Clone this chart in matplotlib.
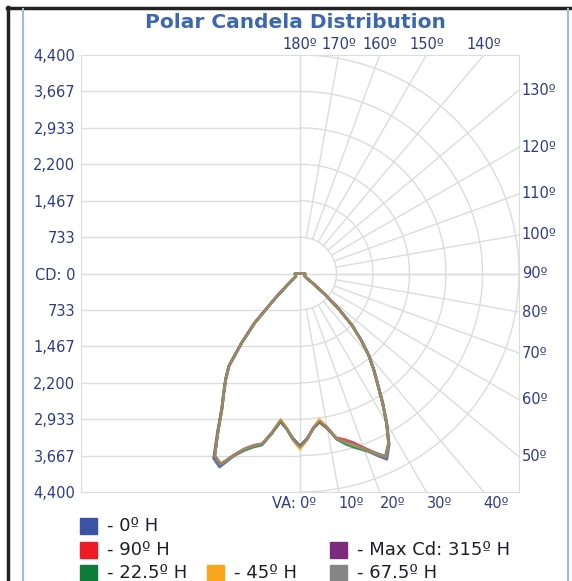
import numpy as np
import matplotlib
matplotlib.use("Agg")
import matplotlib.pyplot as plt
from matplotlib.lines import Line2D
from matplotlib.patches import Rectangle

# vertical angles (deg from nadir) and candela per horizontal plane
va = [0, 2.5, 5, 7.5, 10, 12.5, 15, 17.5, 20, 22.5, 25, 27.5, 30, 32.5, 35,
      37.5, 40, 42.5, 45, 47.5, 50, 52.5, 55, 60, 70, 80, 90, 95, 180]

# right half (plane H), left half (plane H + 180)
cd_0_r = [3480, 3330, 3120, 3010, 3160, 3420, 3500, 3600, 3760, 3950, 4130, 3880, 3480, 3090, 2720,
          2430, 2150, 1820, 1490, 1060, 660, 350, 190, 110, 100, 100, 100, 0, 0]
cd_0_l = [3480, 3330, 3130, 3010, 3270, 3520, 3590, 3720, 3920, 4220, 4110, 3590, 3150, 2860, 2610,
          2350, 1830, 1360, 700, 350, 200, 130, 100, 100, 100, 100, 100, 0, 0]
cd_90_r = [3480, 3330, 3120, 3020, 3170, 3390, 3460, 3570, 3730, 3900, 4070, 3870, 3490, 3100, 2730,
           2440, 2150, 1820, 1490, 1060, 660, 350, 190, 110, 100, 100, 100, 0, 0]
cd_90_l = [3480, 3330, 3130, 3000, 3260, 3510, 3580, 3700, 3890, 4160, 4060, 3560, 3130, 2850, 2600,
           2340, 1820, 1350, 700, 350, 200, 130, 100, 100, 100, 100, 100, 0, 0]
cd_22_r = [3480, 3330, 3120, 3010, 3160, 3420, 3560, 3680, 3790, 3920, 4060, 3850, 3470, 3080, 2710,
           2420, 2140, 1810, 1480, 1050, 650, 340, 190, 110, 100, 100, 100, 0, 0]
cd_22_l = [3480, 3330, 3130, 3000, 3270, 3540, 3620, 3740, 3900, 4150, 4050, 3560, 3140, 2850, 2610,
           2350, 1830, 1350, 700, 350, 200, 130, 100, 100, 100, 100, 100, 0, 0]
cd_45_r = [3540, 3350, 3110, 2960, 3140, 3410, 3510, 3620, 3760, 3920, 4070, 3860, 3480, 3090, 2720,
           2430, 2150, 1820, 1490, 1060, 660, 350, 190, 110, 100, 100, 100, 0, 0]
cd_45_l = [3540, 3350, 3120, 2960, 3250, 3510, 3590, 3710, 3900, 4150, 4050, 3560, 3130, 2850, 2600,
           2340, 1820, 1350, 700, 350, 200, 130, 100, 100, 100, 100, 100, 0, 0]
cd_315_r = [3480, 3330, 3120, 3010, 3160, 3410, 3500, 3600, 3750, 3910, 4080, 3860, 3480, 3090, 2720,
            2430, 2150, 1820, 1490, 1060, 660, 350, 190, 110, 100, 100, 100, 0, 0]
cd_315_l = [3480, 3330, 3130, 3000, 3260, 3520, 3590, 3710, 3900, 4160, 4060, 3560, 3130, 2850, 2600,
            2340, 1820, 1350, 700, 350, 200, 130, 100, 100, 100, 100, 100, 0, 0]
cd_67_r = [3490, 3340, 3120, 3000, 3150, 3410, 3500, 3600, 3750, 3910, 4070, 3860, 3480, 3090, 2720,
           2430, 2150, 1820, 1490, 1060, 660, 350, 190, 110, 100, 100, 100, 0, 0]
cd_67_l = [3490, 3340, 3130, 2990, 3260, 3520, 3590, 3710, 3900, 4160, 4060, 3560, 3130, 2850, 2600,
           2340, 1820, 1350, 700, 350, 200, 130, 100, 100, 100, 100, 100, 0, 0]

planes = ["- 0º H", "- 90º H", "- 22.5º H", "- 45º H", "- Max Cd: 315º H", "- 67.5º H"]
plane_colors = ["#3a53a4", "#ed1c24", "#0f7b3b", "#f9a61a", "#7b2a7e", "#858585"]
plane_data = [(cd_0_r, cd_0_l), (cd_90_r, cd_90_l), (cd_22_r, cd_22_l),
              (cd_45_r, cd_45_l), (cd_315_r, cd_315_l), (cd_67_r, cd_67_l)]
draw_order = [4, 0, 1, 2, 3, 5]

rmax = 4400
ring_step = rmax / 6
ytick_labels = ["4,400", "3,667", "2,933", "2,200", "1,467", "733", "CD: 0",
                "733", "1,467", "2,200", "2,933", "3,667", "4,400"]
top_angles = [180, 170, 160, 150, 140]
right_angles = [130, 120, 110, 100, 90, 80, 70, 60, 50]
bottom_angles = [0, 10, 20, 30, 40]

txt_col = "#2f3b8a"
grid_col = "#dcdcdc"

fig = plt.figure(figsize=(5.72, 5.81), dpi=100)
ax = fig.add_axes([81 / 572, 89 / 581, 438 / 572, 437 / 581])
ax.set_xlim(-rmax, rmax)
ax.set_ylim(-rmax, rmax)
for s in ax.spines.values():
    s.set_color(grid_col)
ax.set_xticks([])
ax.set_yticks(np.linspace(rmax, -rmax, 13))
ax.set_yticklabels(ytick_labels)
ax.tick_params(axis="y", length=0, pad=4, labelsize=10.5, labelcolor=txt_col)

# left half: horizontal lines
for y in np.linspace(rmax, -rmax, 13)[1:-1]:
    ax.plot([-rmax, 0], [y, y], color=grid_col, lw=1, zorder=1)
ax.plot([0, rmax], [0, 0], color=grid_col, lw=1, zorder=1)
ax.plot([0, 0], [-rmax, rmax], color=grid_col, lw=1, zorder=1)

# right half: polar rings and spokes
t = np.radians(np.linspace(0, 180, 200))
for k in range(1, 7):
    r = k * ring_step
    ax.plot(r * np.sin(t), -r * np.cos(t), color=grid_col, lw=1, zorder=1)
for a in range(10, 180, 10):
    ar = np.radians(a)
    s, c = np.sin(ar), np.cos(ar)
    rend = min(rmax / s, rmax / abs(c) if abs(c) > 1e-9 else 1e9)
    ax.plot([ring_step * s, rend * s], [-ring_step * c, -rend * c], color=grid_col, lw=1, zorder=1)

# angle labels
for a in top_angles:
    x = -rmax * np.tan(np.radians(a))
    ax.annotate("%dº" % a, (x, rmax), xytext=(0, 2), textcoords="offset points",
                ha="center", va="bottom", fontsize=10.5, color=txt_col, annotation_clip=False)
for a in right_angles:
    y = -rmax / np.tan(np.radians(a)) if a != 90 else 0
    ax.annotate("%dº" % a, (rmax, y), xytext=(2, 0), textcoords="offset points",
                ha="left", va="center", fontsize=10.5, color=txt_col, annotation_clip=False)
for a in bottom_angles:
    x = rmax * np.tan(np.radians(a))
    ax.annotate("%dº" % a, (x, -rmax), xytext=(0, -3), textcoords="offset points",
                ha="left", va="top", fontsize=10.5, color=txt_col, annotation_clip=False)
ax.annotate("VA: ", (0, -rmax), xytext=(0, -3), textcoords="offset points",
            ha="right", va="top", fontsize=10.5, color=txt_col, annotation_clip=False)

# candela curves
th = np.radians(va)
for i in draw_order:
    cr, cl = plane_data[i]
    xr = np.array(cr) * np.sin(th)
    yr = -np.array(cr) * np.cos(th)
    xl = -np.array(cl) * np.sin(th)
    yl = -np.array(cl) * np.cos(th)
    ax.plot(np.concatenate([xl[::-1], xr]), np.concatenate([yl[::-1], yr]),
            color=plane_colors[i], lw=1.9, alpha=0.8, zorder=3, solid_joinstyle="round")

# title
fig.text(295 / 572, 1 - 22 / 581, "Polar Candela Distribution", ha="center", va="center",
         fontsize=14.5, fontweight="bold", color="#3b67b0")

# legend (manual flow layout)
legend_pos = [(80, 526), (80, 550), (80, 573), (207, 573), (330, 550), (330, 573)]
for lab, col, (px, py) in zip(planes, plane_colors, legend_pos):
    fig.add_artist(Rectangle((px / 572, 1 - (py + 8) / 581), 17 / 572, 16 / 581,
                             transform=fig.transFigure, color=col))
    fig.text((px + 27) / 572, 1 - py / 581, lab, ha="left", va="center",
             fontsize=13, color="#1e1e2a")

# outer frame
fig.add_artist(Line2D([7 / 572, 1], [1 - 7.5 / 581] * 2, color="#222222", lw=2.5,
                      transform=fig.transFigure))
fig.add_artist(Line2D([7.5 / 572] * 2, [0, 1 - 7 / 581], color="#222222", lw=2.5,
                      transform=fig.transFigure))
fig.add_artist(Line2D([23.5 / 572] * 2, [0, 1 - 9 / 581], color="#9fb8e6", lw=1.5,
                      transform=fig.transFigure))
fig.add_artist(Line2D([567.5 / 572] * 2, [0, 1 - 9 / 581], color="#9fb8e6", lw=1.5,
                      transform=fig.transFigure))

fig.savefig("out.png", dpi=100, facecolor="white")
